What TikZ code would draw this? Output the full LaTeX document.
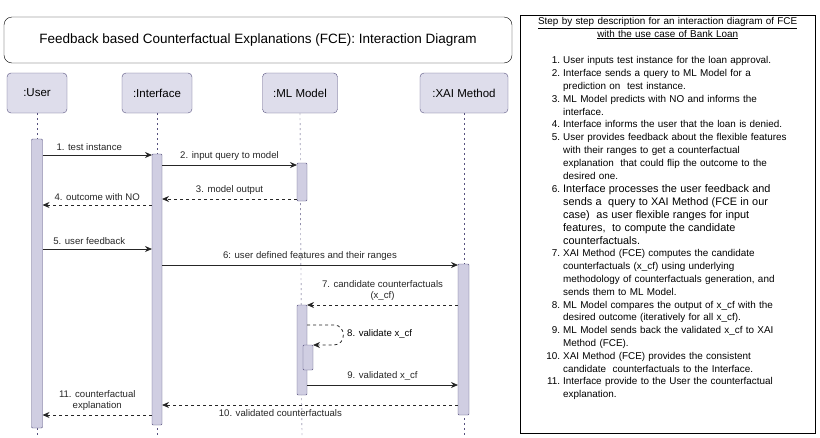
\documentclass[tikz,border=0pt]{standalone}
\usepackage{fontspec}
\setmainfont{Liberation Sans}
\usepackage{enumitem}
\usetikzlibrary{arrows.meta}
\definecolor{lifeblue}{HTML}{56517E}
\definecolor{lifefill}{HTML}{D0CEE2}
\tikzset{
  head/.style={draw=lifeblue,fill=lifefill!70,rounded corners=4pt,minimum width=60pt,minimum height=40pt,font=\fontsize{11.5}{13}\selectfont},
  life/.style={draw=lifeblue,dashed,dash pattern=on 2pt off 3pt},
  bar/.style={draw=lifeblue,fill=lifefill,rounded corners=1pt},
  msg/.style={-{Stealth[length=7pt,width=6pt]},thick,black!85},
  ret/.style={msg,dashed},
  lbl/.style={font=\fontsize{9.6}{11}\selectfont,inner sep=1pt,align=center}
}
\begin{document}
\begin{tikzpicture}[x=1pt,y=-1pt]
    \useasboundingbox (0,0) rectangle (820,437);
    % title
    \node [draw,rounded corners=8pt,minimum width=508pt,minimum height=46pt,font=\fontsize{13.5}{15}\selectfont] (title) at (258,40) {Feedback based Counterfactual Explanations (FCE): Interaction Diagram};
    % lifelines
    \node [head] (user) at (37,93) {:User};
    \node [head,minimum width=70pt] (iface) at (157,93) {:Interface};
    \node [head,minimum width=75pt] (model) at (300,93) {:ML Model};
    \node [head,minimum width=88pt] (xai) at (464,93) {:XAI Method};
    \foreach \n/\x in {user/37,iface/157,model/302,xai/464}
        \draw [life] (\n.south) -- (\x,437);
    % activation bars
    \draw [bar] (31.5,139) rectangle (42.5,428);
    \draw [bar] (152,154) rectangle (162,425);
    \draw [bar] (297,163) rectangle (307,201);
    \draw [bar] (297,305) rectangle (307,395);
    \draw [bar] (303,345) rectangle (313,370);
    \draw [bar] (458,264) rectangle (469,415);
    % message ends
    \coordinate (u1) at (42.5,155);  \coordinate (i1) at (152,155);
    \coordinate (i2) at (162,165);   \coordinate (m2) at (297,165);
    \coordinate (m3) at (297,199);   \coordinate (i3) at (162,199);
    \coordinate (i4) at (152,205);   \coordinate (u4) at (42.5,205);
    \coordinate (u5) at (42.5,249);  \coordinate (i5) at (152,249);
    \coordinate (i6) at (162,265);   \coordinate (x6) at (458,265);
    \coordinate (x7) at (458,305);   \coordinate (m7) at (307,305);
    \coordinate (m8) at (307,325);   \coordinate (n8) at (313,345);
    \coordinate (m9) at (307,385);   \coordinate (x9) at (458,385);
    \coordinate (x10) at (458,405);  \coordinate (i10) at (162,405);
    \coordinate (i11) at (152,415);  \coordinate (u11) at (42.5,415);
    % messages
    \draw [msg] (u1) -- node [lbl,above=3pt,xshift=-8pt] {1. test instance} (i1);
    \draw [msg] (i2) -- node [lbl,above=3pt] {2. input query to model} (m2);
    \draw [ret] (m3) -- node [lbl,above=3pt] {3. model output} (i3);
    \draw [ret] (i4) -- node [lbl,above=3pt] {4. outcome with NO} (u4);
    \draw [msg] (u5) -- node [lbl,above=3pt,xshift=-8pt] {5. user feedback} (i5);
    \draw [msg] (i6) -- node [lbl,above=3pt] {6: user defined features and their ranges} (x6);
    \draw [ret] (x7) -- node [lbl,above=3pt] {7. candidate counterfactuals\\(x\_cf)} (m7);
    \draw [ret] (m8) -- (334,325) to [out=0,in=0,looseness=1.6] (334,345) -- (n8);
    \node [lbl,anchor=west] (l8) at (346,334) {8. validate x\_cf};
    \draw [msg] (m9) -- node [lbl,above=3pt] {9. validated x\_cf} (x9);
    \draw [ret] (x10) -- node [lbl,pos=0.6,below=3pt] {10. validated counterfactuals} (i10);
    \draw [ret] (i11) -- node [lbl,above=3pt] {11. counterfactual\\explanation} (u11);
    % description panel
    \draw (520,15) rectangle (815,433);
    \node [anchor=north west,text width=289pt,inner sep=0pt,font=\fontsize{9.9}{12.8}\selectfont] (desc) at (523,17) {%
        \centering\underline{Step by step description for an interaction diagram of FCE}\\
        \underline{with the use case of Bank Loan}\par\vspace{12pt}
        \raggedright
        \begin{enumerate}[leftmargin=40pt,labelsep=3pt,itemsep=0pt,parsep=0pt,topsep=0pt,rightmargin=0pt]
        \item User inputs test instance for the loan approval.
        \item Interface sends a query to ML Model for a\\prediction on\ \ test instance.
        \item ML Model predicts with NO and informs the\\interface.
        \item Interface informs the user that the loan is denied.
        \item User provides feedback about the flexible features\\with their ranges to get a counterfactual\\explanation\ \ that could flip the outcome to the\\desired one.
        \item {\fontsize{10.9}{13}\selectfont Interface processes the user feedback and\\sends a\ \ query to XAI Method (FCE in our\\case)\ \ as user flexible ranges for input\\features,\ \ to compute the candidate\\counterfactuals.\par}
        \item XAI Method (FCE) computes the candidate\\counterfactuals (x\_cf) using underlying\\methodology of counterfactuals generation, and\\sends them to ML Model.
        \item ML Model compares the output of x\_cf with the\\desired outcome (iteratively for all x\_cf).
        \item ML Model sends back the validated x\_cf to XAI\\Method (FCE).
        \item XAI Method (FCE) provides the consistent\\candidate\ \ counterfactuals to the Interface.
        \item Interface provide to the User the counterfactual\\explanation.
        \end{enumerate}};
\end{tikzpicture}
\end{document}
